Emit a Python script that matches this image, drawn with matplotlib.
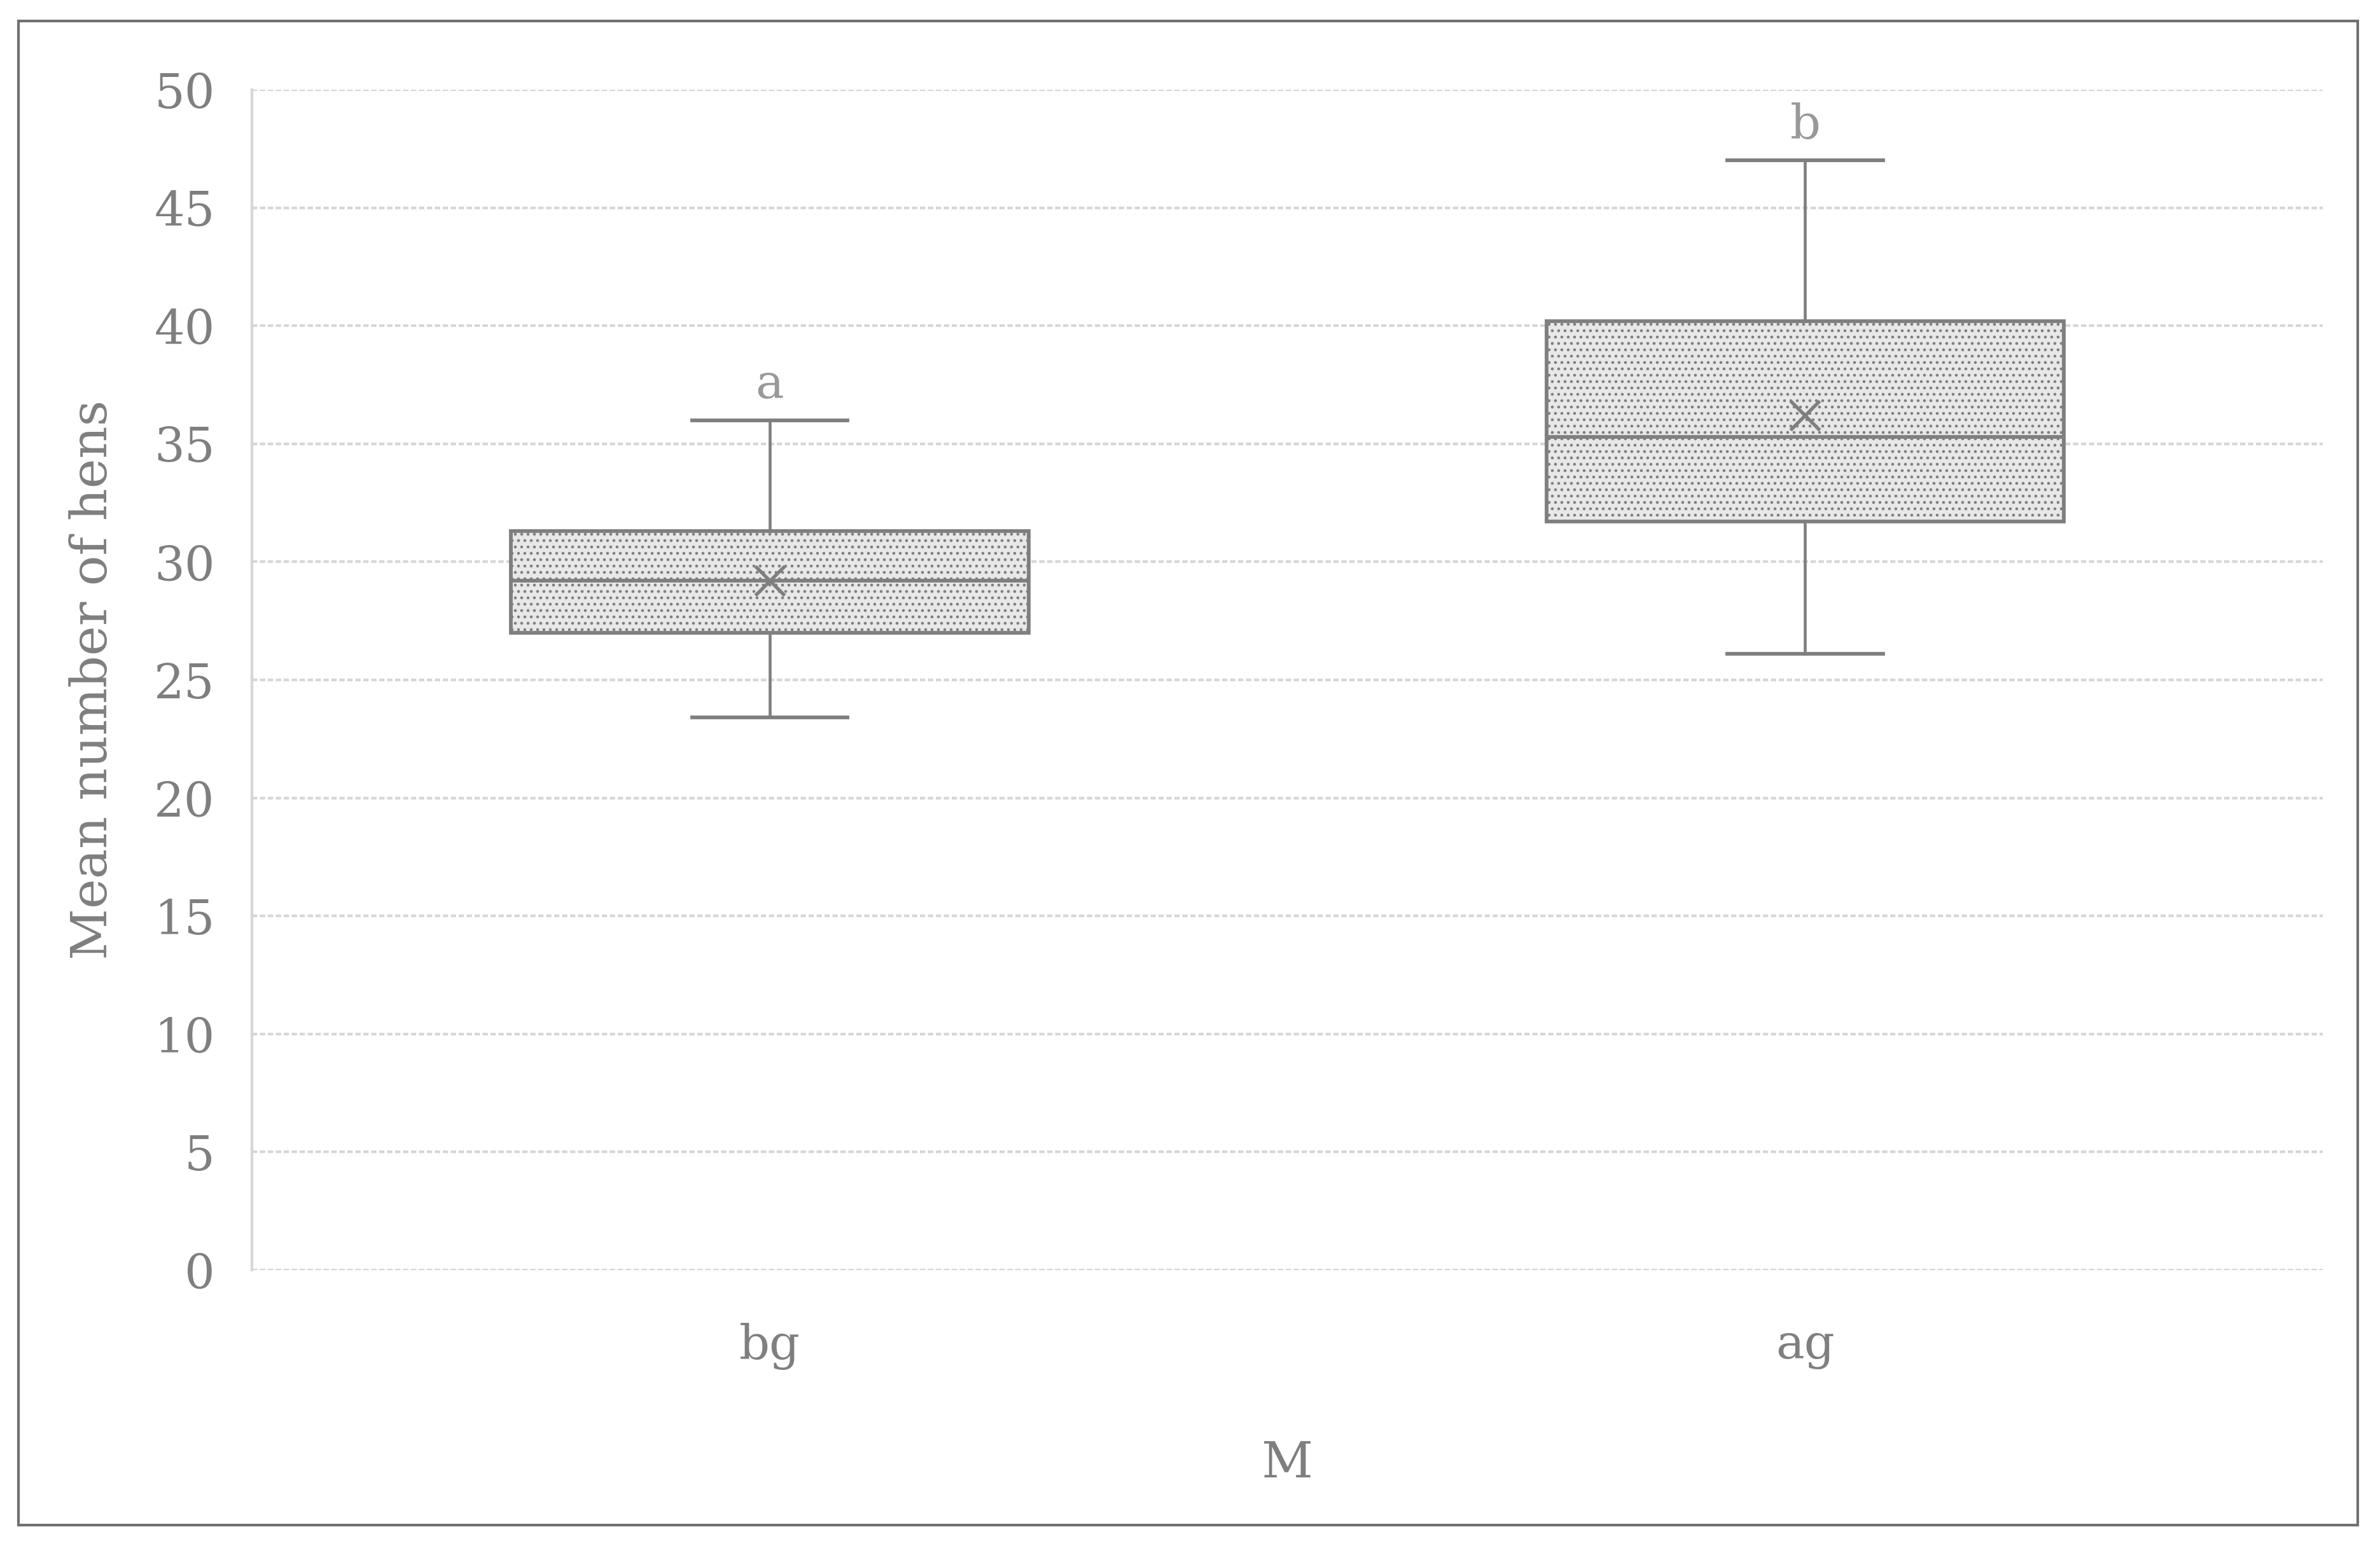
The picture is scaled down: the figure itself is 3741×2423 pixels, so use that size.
import matplotlib
matplotlib.use("Agg")
from matplotlib import pyplot as plt
from matplotlib.patches import Rectangle

# values
groups = ["bg", "ag"]
whis_low = [23.4, 26.1]
q1 = [27.0, 31.7]
median = [29.2, 35.3]
mean = [29.2, 36.2]
q3 = [31.3, 40.2]
whis_high = [36.0, 47.0]
letters = ["a", "b"]
y_ticks = [0, 5, 10, 15, 20, 25, 30, 35, 40, 45, 50]

grey = "#7f7f7f"
plt.rcParams["font.family"] = ["DejaVu Serif"]
plt.rcParams["hatch.color"] = "#c8c8c8"
plt.rcParams["hatch.linewidth"] = 0.6

fig = plt.figure(figsize=(3741 / 300, 2423 / 300), dpi=300)
ax = fig.add_axes([0.1059, 0.1758, 0.8701, 0.766])

stats = []
for i, g in enumerate(groups):
    stats.append(dict(label=g, whislo=whis_low[i], q1=q1[i], med=median[i],
                      q3=q3[i], whishi=whis_high[i], mean=mean[i], fliers=[]))

bp = ax.bxp(stats, positions=[1, 2], widths=0.5, showmeans=True,
            patch_artist=True, showfliers=False,
            boxprops=dict(facecolor="#e8e8e8", edgecolor=grey, linewidth=1.4, hatch="....."),
            medianprops=dict(color=grey, linewidth=1.4),
            whiskerprops=dict(color=grey, linewidth=1.1),
            capprops=dict(color=grey, linewidth=1.4),
            meanprops=dict(marker="x", markersize=11, markeredgecolor=grey,
                           markeredgewidth=1.3, markerfacecolor=grey),
            capwidths=0.15, zorder=3)

for i, lt in enumerate(letters):
    ax.text(i + 1, whis_high[i] + 0.5, lt, ha="center", va="bottom",
            fontsize=18, color="#999999")

ax.set_xlim(0.5, 2.5)
ax.set_ylim(0, 50)
ax.set_yticks(y_ticks)
ax.set_xticks([1, 2])
ax.set_xticklabels(groups)
ax.tick_params(axis="both", length=0, labelsize=18, labelcolor=grey)
ax.tick_params(axis="x", pad=20)
ax.tick_params(axis="y", pad=14)
ax.yaxis.grid(True, color="#d6d6d6", linestyle=(0, (2, 1)), linewidth=1.0, zorder=0)
ax.set_axisbelow(True)
for s in ["top", "right", "bottom"]:
    ax.spines[s].set_visible(False)
ax.spines["left"].set_color("#d6d6d6")
ax.spines["left"].set_linestyle((0, (2, 1)))
ax.spines["left"].set_linewidth(1.0)

ax.set_ylabel("Mean number of hens", fontsize=19, color=grey, labelpad=14)
ax.set_xlabel("M", fontsize=19, color=grey, labelpad=26)

# outer frame
fig.patches.append(Rectangle((29 / 3741, 1 - 2398 / 2423), (3706 - 29) / 3741,
                             (2398 - 33) / 2423, transform=fig.transFigure,
                             fill=False, edgecolor="#707070", linewidth=1.0))

plt.savefig("out.png", dpi=300)
plt.close()
